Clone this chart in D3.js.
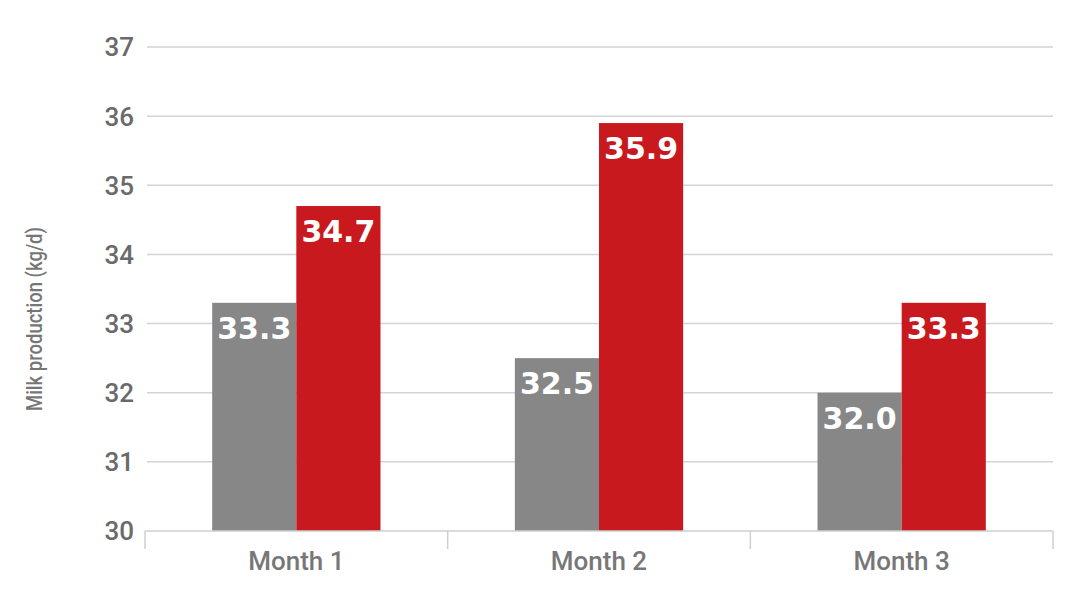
<!DOCTYPE html>
<html><head><meta charset="utf-8">
<script src="https://cdn.jsdelivr.net/npm/d3@7"></script>
<style>body{margin:0;background:#fff}</style>
</head><body>
<svg id="c" width="1080" height="615"></svg>
<script>
const categories = ["Month 1", "Month 2", "Month 3"];
const seriesNames = ["Control", "Treatment"];
const controlValues = [33.3, 32.5, 32.0];
const treatmentValues = [34.7, 35.9, 33.3];
const yTicks = [30, 31, 32, 33, 34, 35, 36, 37];
const yTitle = "Milk production (kg/d)";

const colors = {Control: "#878787", Treatment: "#c8191f"};
const svg = d3.select("#c");
const mLeft = 145, mRight = 1053, mTop = 47, mBottom = 531;

const x0 = d3.scaleBand().domain(categories).range([mLeft, mRight]).padding(0);
const bw = x0.bandwidth();
const x1 = d3.scaleBand().domain(seriesNames).range([bw * 0.222, bw * 0.778]).padding(0);
const y = d3.scaleLinear().domain([30, 37]).range([mBottom, mTop]);

// gridlines
svg.append("g").selectAll("line").data(yTicks.filter(t => t > 30)).join("line")
  .attr("x1", mLeft + 2).attr("x2", mRight)
  .attr("y1", d => y(d)).attr("y2", d => y(d))
  .attr("stroke", "#d4d4d4").attr("stroke-width", 1.5);

// y tick labels
svg.append("g").selectAll("text").data(yTicks).join("text")
  .attr("x", 134).attr("y", d => y(d)).attr("dy", "0.36em")
  .attr("text-anchor", "end")
  .attr("font-family", "Roboto").attr("font-weight", 500).attr("font-size", 26)
  .attr("fill", "#6a6a6a").text(d => d);

// y title
svg.append("text")
  .attr("transform", `translate(42,319) rotate(-90)`)
  .attr("text-anchor", "middle")
  .attr("font-family", "Roboto").attr("font-weight", 500).attr("font-size", 22)
  .attr("textLength", 184).attr("lengthAdjust", "spacingAndGlyphs")
  .attr("fill", "#767676").text(yTitle);

const data = categories.map((c, i) => ({cat: c, vals: [
  {s: "Control", v: controlValues[i]}, {s: "Treatment", v: treatmentValues[i]}]}));

const groups = svg.append("g").selectAll("g").data(data).join("g")
  .attr("transform", d => `translate(${x0(d.cat)},0)`);

groups.selectAll("rect").data(d => d.vals).join("rect")
  .attr("x", d => x1(d.s)).attr("width", x1.bandwidth())
  .attr("y", d => y(d.v)).attr("height", d => y(30) - y(d.v))
  .attr("fill", d => colors[d.s]);

groups.selectAll("text").data(d => d.vals).join("text")
  .attr("x", d => x1(d.s) + x1.bandwidth() / 2)
  .attr("y", d => y(d.v) + 36)
  .attr("text-anchor", "middle")
  .attr("font-family", "DejaVu Sans").attr("font-weight", "bold").attr("font-size", 30)
  .attr("fill", "#fff").text(d => d.v.toFixed(1));

// x axis
const xAxis = svg.append("g");
xAxis.append("line").attr("x1", mLeft).attr("x2", mRight).attr("y1", mBottom).attr("y2", mBottom)
  .attr("stroke", "#cfcfcf").attr("stroke-width", 1.5);
const bounds = categories.map(c => x0(c)).concat([mRight]);
xAxis.selectAll("line.tick").data(bounds).join("line").attr("class", "tick")
  .attr("x1", d => d).attr("x2", d => d).attr("y1", mBottom).attr("y2", mBottom + 18)
  .attr("stroke", "#cfcfcf").attr("stroke-width", 1.5);
xAxis.selectAll("text").data(categories).join("text")
  .attr("x", d => x0(d) + bw / 2).attr("y", 570)
  .attr("text-anchor", "middle")
  .attr("font-family", "Roboto").attr("font-weight", 500).attr("font-size", 26)
  .attr("fill", "#777").text(d => d);
</script>
</body></html>
